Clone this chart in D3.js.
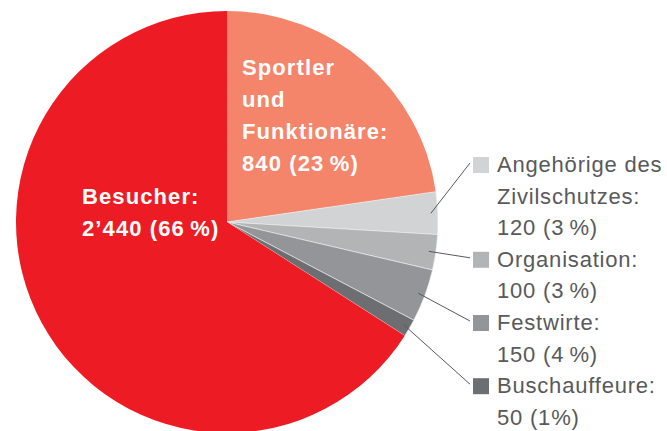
<!DOCTYPE html>
<html>
<head>
<meta charset="utf-8">
<script src="https://cdn.jsdelivr.net/npm/d3@7"></script>
<style>
  body { margin: 0; background: #fff; }
  text { font-family: "Liberation Sans", Arial, sans-serif; }
</style>
</head>
<body>
<svg id="chart" width="667" height="431"></svg>
<script>
// data, clockwise from 12 o'clock
var categories = ['Sportler und Funktionäre', 'Angehörige des Zivilschutzes', 'Organisation', 'Festwirte', 'Buschauffeure', 'Besucher'];
var values = [840, 120, 100, 150, 50, 2440];
var colors = ['#F4846A', '#D1D3D4', '#B2B4B6', '#939598', '#6D6E71', '#ED1C24'];

// label texts
var insideLabels = [
  ['Sportler', 'und', 'Funktionäre:', '840 (23\u2009%)'],
  null, null, null, null,
  ['Besucher:', '2\u2019440 (66\u2009%)']
];
var legendLabels = [
  null,
  ['Angehörige des', 'Zivilschutzes:', '120 (3\u2009%)'],
  ['Organisation:', '100 (3\u2009%)'],
  ['Festwirte:', '150 (4\u2009%)'],
  ['Buschauffeure:', '50 (1%)'],
  null
];

var svg = d3.select('#chart');
var cx = 227, cy = 222, radius = 211;

var data = categories.map(function(c, i) { return {name: c, value: values[i], i: i}; });
var pie = d3.pie().sort(null).value(function(d) { return d.value; });
var arc = d3.arc().innerRadius(0).outerRadius(radius);
var arcs = pie(data);

var g = svg.append('g').attr('transform', 'translate(' + cx + ',' + cy + ')');

g.selectAll('.slice')
  .data(arcs)
  .enter().append('path')
  .attr('class', 'slice')
  .attr('d', arc)
  .attr('fill', function(d) { return colors[d.data.i]; })
  .attr('stroke', function(d) { return (d.data.i >= 1 && d.data.i <= 4) ? '#f2f2f2' : 'none'; })
  .attr('stroke-width', 0.6);

// white labels inside the two big slices
var insidePos = {0: [242, 75], 5: [82, 204]};
var lineH = 32;
arcs.forEach(function(d) {
  var lines = insideLabels[d.data.i];
  if (!lines) return;
  var p = insidePos[d.data.i];
  var t = svg.append('text')
    .attr('fill', '#fff')
    .attr('font-weight', 'bold')
    .attr('font-size', 22)
    .attr('letter-spacing', 1.1);
  lines.forEach(function(l, k) {
    t.append('tspan').attr('x', p[0]).attr('y', p[1] + k * lineH).text(l);
  });
});

// legend on the right with leader lines
var legX = 473, textX = 497, sq = 16, legLineH = 31.6;
var baseline = 172;
var leaderArc = d3.arc().innerRadius(radius * 0.967).outerRadius(radius * 0.967);
arcs.forEach(function(d) {
  var lines = legendLabels[d.data.i];
  if (!lines) return;
  var top = baseline - 15;
  var c = leaderArc.centroid(d);
  svg.append('line')
    .attr('x1', cx + c[0]).attr('y1', cy + c[1])
    .attr('x2', legX - 3).attr('y2', top + 6)
    .attr('stroke', '#58595B')
    .attr('stroke-width', 1);
  svg.append('rect')
    .attr('x', legX).attr('y', top)
    .attr('width', sq).attr('height', sq)
    .attr('fill', colors[d.data.i]);
  var t = svg.append('text')
    .attr('fill', '#58595B')
    .attr('font-size', 22)
    .attr('letter-spacing', 0.8);
  lines.forEach(function(l, k) {
    t.append('tspan').attr('x', textX).attr('y', baseline + k * legLineH).text(l);
  });
  baseline += lines.length * legLineH;
});
</script>
</body>
</html>
